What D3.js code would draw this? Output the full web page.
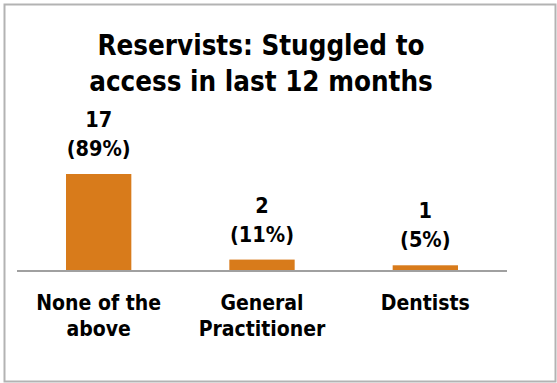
<!DOCTYPE html>
<html>
<head>
<meta charset="utf-8">
<script src="https://cdn.jsdelivr.net/npm/d3@7"></script>
<style>
  html, body { margin: 0; padding: 0; background: #fff; }
  svg { display: block; }
  text { font-family: "DejaVu Sans Condensed", "DejaVu Sans", sans-serif; font-stretch: condensed; font-weight: bold; fill: #000; }
</style>
</head>
<body>
<svg id="chart" width="557" height="383"></svg>
<script>
// Chart data
const titleLines = ["Reservists: Stuggled to", "access in last 12 months"];
const categories = [["None of the", "above"], ["General", "Practitioner"], ["Dentists"]];
const counts = [17, 2, 1];
const percents = ["89%", "11%", "5%"];

const W = 557, H = 383;
const svg = d3.select("#chart");

// Outer chart frame
svg.append("rect")
  .attr("x", 4.5).attr("y", 4.5)
  .attr("width", 551).attr("height", 377)
  .attr("fill", "#fff")
  .attr("stroke", "#b3b3b3")
  .attr("stroke-width", 2);

const plot = { left: 17, right: 507, base: 271 };

const x = d3.scaleBand()
  .domain(d3.range(counts.length))
  .range([plot.left, plot.right])
  .paddingInner(0.6)
  .paddingOuter(0.3);

const y = d3.scaleLinear()
  .domain([0, 17])
  .range([plot.base, 174]);

// Title
const title = svg.append("text")
  .attr("text-anchor", "middle")
  .style("font-size", "27.5px");
title.selectAll("tspan")
  .data(titleLines)
  .join("tspan")
  .attr("x", (plot.left + plot.right) / 2 - 1)
  .attr("y", (d, i) => 55 + i * 36)
  .text(d => d);

// Bars
svg.append("g")
  .selectAll("rect")
  .data(counts)
  .join("rect")
  .attr("x", (d, i) => x(i))
  .attr("y", d => y(d))
  .attr("width", x.bandwidth())
  .attr("height", d => y(0) - y(d))
  .attr("fill", "#D87B1B");

// Category axis
const axis = svg.append("g")
  .attr("transform", `translate(0,${plot.base})`)
  .call(d3.axisBottom(x).tickSize(0).tickFormat(""));
axis.select(".domain")
  .attr("stroke", "#a0a0a0")
  .attr("stroke-width", 2)
  .attr("d", `M${plot.left},0H${plot.right}`);

// Category labels (wrapped)
const cat = svg.append("g")
  .selectAll("text")
  .data(categories)
  .join("text")
  .attr("text-anchor", "middle")
  .style("font-size", "21px");
cat.selectAll("tspan")
  .data((d, i) => d.map(t => ({ t, i })))
  .join("tspan")
  .attr("x", d => x(d.i) + x.bandwidth() / 2)
  .attr("y", (d, j) => 310 + j * 26)
  .text(d => d.t);

// Value labels: count and percentage above each bar
const lab = svg.append("g")
  .selectAll("text")
  .data(counts)
  .join("text")
  .attr("text-anchor", "middle")
  .style("font-size", "21.5px");
lab.append("tspan")
  .attr("x", (d, i) => x(i) + x.bandwidth() / 2)
  .attr("y", d => y(d) - 47)
  .text(d => d);
lab.append("tspan")
  .attr("x", (d, i) => x(i) + x.bandwidth() / 2)
  .attr("y", d => y(d) - 18)
  .text((d, i) => `(${percents[i]})`);
</script>
</body>
</html>
